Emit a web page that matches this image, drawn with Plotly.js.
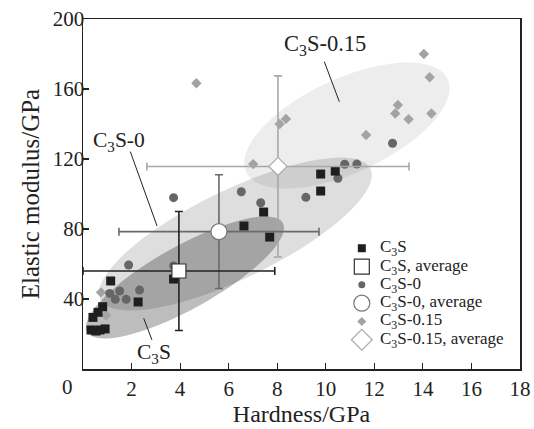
<!DOCTYPE html>
<html><head><meta charset="utf-8">
<script src="https://cdn.plot.ly/plotly-3.0.1.min.js"></script>
<style>html,body{margin:0;padding:0;background:#fff}</style>
</head><body><div id="chart" style="width:534px;height:429px"></div>
<script>
// ---- data ----
const c3sX = [9.79,10.39,9.79,7.44,6.63,7.69,3.73,1.14,2.27,0.81,0.62,0.41,0.33,0.54,0.70,0.91];
const c3sY = [111.4,113.1,101.7,89.7,81.7,75.4,51.4,50.3,38.3,35.6,32.4,29.5,22.3,21.7,22.3,22.9];
const c3s0X = [12.75,10.78,11.28,10.50,9.18,6.52,7.32,3.73,1.88,3.73,1.10,1.51,2.33,1.33,1.78];
const c3s0Y = [129.0,117.0,117.1,109.0,98.1,101.3,95.0,97.9,59.4,58.9,43.2,44.6,45.1,39.8,39.8];
const c3s015X = [14.04,14.28,12.97,12.86,13.41,14.35,11.66,8.36,8.10,7.01,4.67,3.75,0.74,0.95];
const c3s015Y = [180.0,166.7,150.9,146.0,142.7,146.0,133.7,142.9,140.0,117.1,163.3,63.8,43.8,30.7];
// averages: [x, y, x error, y error]
const c3sAvg = [3.95, 56.0, 3.95, 34.0];
const c3s0Avg = [5.6, 78.5, 4.12, 32.5];
const c3s015Avg = [8.03, 115.75, 5.4, 51.75];
// series names
const names = ['C<sub>3</sub>S','C<sub>3</sub>S, average','C<sub>3</sub>S-0','C<sub>3</sub>S-0, average','C<sub>3</sub>S-0.15','C<sub>3</sub>S-0.15, average'];
const xTicks = [2,4,6,8,10,12,14,16,18];
const yTicks = [40,80,120,160,200];

// ---- layout geometry ----
const W = 534, H = 429, M = {l:83, r:14, t:19, b:60};
const plotW = W - M.l - M.r, plotH = H - M.t - M.b;
const xR = [0,18], yR = [0,200];
const kx = (xR[1]-xR[0])/plotW, ky = (yR[1]-yR[0])/plotH;

// ellipse regions: centre in data, semi-axes in px, tilt in degrees (screen)
function ellipsePath(cx, cy, a, b, deg){
  const th = deg*Math.PI/180; let p = '';
  for(let i=0;i<=72;i++){
    const t = i/72*2*Math.PI;
    const dx = a*Math.cos(t)*Math.cos(th) - b*Math.sin(t)*Math.sin(th);
    const dy = a*Math.cos(t)*Math.sin(th) + b*Math.sin(t)*Math.cos(th);
    p += (i?'L':'M') + (cx+dx*kx).toFixed(4) + ',' + (cy+dy*ky).toFixed(4);
  }
  return p + 'Z';
}

const serif = 'Liberation Serif, Times New Roman, serif';
const ink = '#222';

const traces = [];
const mk = (x,y,sym,size,color,line) => ({x, y, type:'scatter', mode:'markers', showlegend:false, cliponaxis:false,
  hoverinfo:'skip', marker:{symbol:sym, size, color, line: line || {width:0}}});

traces.push(mk(c3s015X, c3s015Y, 'diamond', 8, '#a3a3a3'));
traces.push(mk(c3s0X, c3s0Y, 'circle', 9, '#666666'));
traces.push(mk(c3sX, c3sY, 'square', 9, '#1e1e1e'));

function avgTrace(avg, sym, size, lc, ec){
  const t = mk([avg[0]],[avg[1]], sym, size, '#ffffff', {color:lc, width:1.2});
  t.error_x = {type:'data', array:[avg[2]], visible:true, color:ec, thickness:1.6, width:4};
  t.error_y = {type:'data', array:[avg[3]], visible:true, color:ec, thickness:1.6, width:4};
  return t;
}
traces.push(avgTrace(c3s015Avg, 'diamond', 14, '#aaaaaa', '#a8a8a8'));
traces.push(avgTrace(c3s0Avg, 'circle', 16, '#777777', '#6a6a6a'));
traces.push(avgTrace(c3sAvg, 'square', 14, '#333333', '#222222'));

// custom legend (on overlay axes spanning 0..1 of the plot area)
const legX = 0.638, legTextX = 0.676, legTop = 0.345, legStep = 0.0523;
const legSyms = [
  ['square',8,'#1e1e1e',null],
  ['square',15,'#ffffff',{color:'#333',width:1.2}],
  ['circle',7,'#666666',null],
  ['circle',16,'#ffffff',{color:'#777',width:1.2}],
  ['diamond',7,'#a3a3a3',null],
  ['diamond',16,'#ffffff',{color:'#aaa',width:1.2}]
];
legSyms.forEach((s,i)=>{
  const t = mk([legX],[legTop - i*legStep], s[0], s[1], s[2], s[3]);
  t.xaxis = 'x2'; t.yaxis = 'y2';
  traces.push(t);
});

const annotations = names.map((n,i)=>({xref:'paper', yref:'paper', x:legTextX, y:legTop - i*legStep,
  xanchor:'left', yanchor:'middle', text:n, showarrow:false, font:{family:serif, size:17, color:ink}}));

// region labels
const lab = (x,y,t,s)=>({xref:'x', yref:'y', x, y, text:t, showarrow:false, xanchor:'center', yanchor:'middle',
  font:{family:serif, size:s, color:ink}});
annotations.push(lab(9.97,185,'C<sub>3</sub>S-0.15',22.5));
annotations.push(lab(1.50,130,'C<sub>3</sub>S-0',21.5));
annotations.push(lab(2.94,9.1,'C<sub>3</sub>S',21.5));
// origin label
annotations.push({xref:'paper', yref:'paper', x:-16/plotW, y:0, yanchor:'top', xanchor:'center', yshift:-4,
  text:'0', showarrow:false, font:{family:serif, size:21, color:ink}});

const leader = (x0,y0,x1,y1)=>({type:'line', xref:'x', yref:'y', x0, y0, x1, y1, line:{color:ink, width:1}, layer:'above'});

const shapes = [
  {type:'path', xref:'x', yref:'y', path:ellipsePath(10.87,139.1,111,47,24.7), fillcolor:'rgba(0,0,0,0.07)', line:{width:0}, layer:'below'},
  {type:'path', xref:'x', yref:'y', path:ellipsePath(6.28,77.1,150,44.3,25.8), fillcolor:'rgba(0,0,0,0.13)', line:{width:0}, layer:'below'},
  {type:'path', xref:'x', yref:'y', path:ellipsePath(4.20,52.3,112,31.5,29.1), fillcolor:'rgba(0,0,0,0.26)', line:{width:0}, layer:'below'},
  leader(9.94,175.6,10.56,152.7),
  leader(1.95,124.2,3.05,81.7),
  leader(2.50,29.0,2.84,16.6)
];

const layout = {
  width:W, height:H, margin:M, paper_bgcolor:'#fff', plot_bgcolor:'#fff',
  font:{family:serif, color:ink},
  xaxis:{range:xR, tickvals:xTicks, ticks:'inside', ticklen:6, tickwidth:1.2,
    tickcolor:ink, showline:true, linecolor:ink, linewidth:1.5, mirror:true, showgrid:false, zeroline:false,
    tickfont:{family:serif, size:21, color:ink}, title:{text:'Hardness/GPa', font:{family:serif, size:24, color:ink}, standoff:2}},
  yaxis:{range:yR, tickvals:yTicks, ticks:'inside', ticklen:6, tickwidth:1.2, ticklabelstandoff:-7,
    tickcolor:ink, showline:true, linecolor:ink, linewidth:1.5, mirror:true, showgrid:false, zeroline:false,
    tickfont:{family:serif, size:21, color:ink}, title:{text:'Elastic modulus/GPa', font:{family:serif, size:25, color:ink}, standoff:6}},
  xaxis2:{overlaying:'x', range:[0,1], visible:false, fixedrange:true},
  yaxis2:{overlaying:'y', range:[0,1], visible:false, fixedrange:true},
  shapes, annotations, showlegend:false
};

Plotly.newPlot('chart', traces, layout, {displayModeBar:false, staticPlot:true});
</script></body></html>
